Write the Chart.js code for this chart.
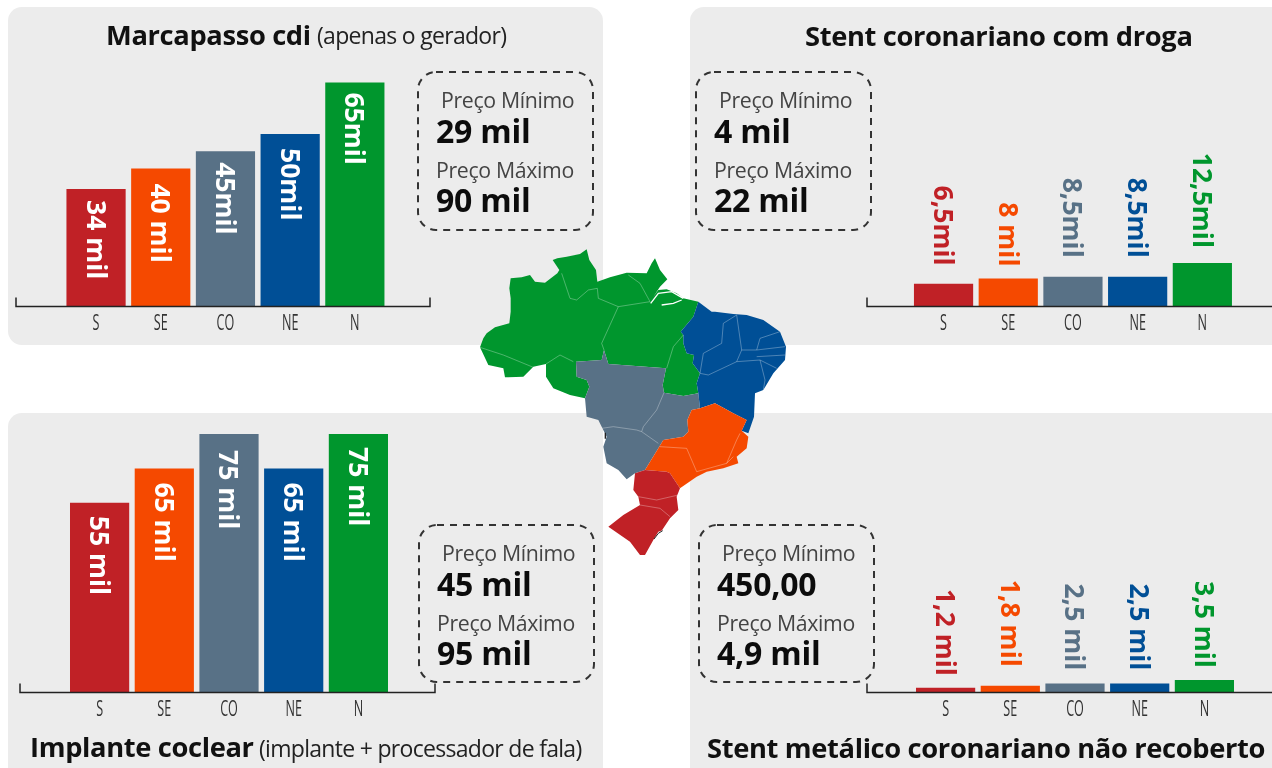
<!DOCTYPE html>
<html>
<head>
<meta charset="utf-8">
<script src="https://cdn.jsdelivr.net/npm/chart.js@4"></script>
<style>
html, body { margin: 0; padding: 0; background: #fff; }
#page { position: relative; width: 1272px; height: 768px; overflow: hidden; font-family: "Open Sans", sans-serif; color: #111; }
.panel { position: absolute; background: #ececec; border-radius: 14px; }
canvas { position: absolute; }
.txt { position: absolute; white-space: nowrap; line-height: 1; }
.tit { font-size: 27.3px; font-weight: 700; letter-spacing: -0.35px; }
.sub { font-size: 23px; font-weight: 400; letter-spacing: -0.7px; color: #222; }
.lbl { font-size: 21.3px; color: #444; letter-spacing: -0.35px; }
.val { font-size: 32px; font-weight: 700; color: #0c0c0c; letter-spacing: -0.2px; }
svg { position: absolute; }
</style>
</head>
<body>
<div id="page">
  <div class="panel" style="left:8px;top:7px;width:595px;height:338px"></div>
  <div class="panel" style="left:690px;top:7px;width:620px;height:338px"></div>
  <div class="panel" style="left:8px;top:413px;width:595px;height:380px"></div>
  <div class="panel" style="left:690px;top:413px;width:620px;height:380px"></div>

  <canvas id="chart1" width="440" height="345" style="left:0;top:0"></canvas>
  <canvas id="chart2" width="412" height="345" style="left:860px;top:0"></canvas>
  <canvas id="chart3" width="440" height="345" style="left:0;top:386px"></canvas>
  <canvas id="chart4" width="412" height="345" style="left:860px;top:386px"></canvas>

  <svg width="1272" height="768" style="left:0;top:0" fill="none" stroke="#333" stroke-width="2" stroke-dasharray="7 6">
    <rect x="418" y="72" width="175" height="158" rx="18"/>
    <rect x="696" y="72" width="175" height="158" rx="18"/>
    <rect x="419" y="525" width="175" height="157" rx="18"/>
    <rect x="699" y="525" width="175" height="157" rx="18"/>
  </svg>

  <span class="txt tit" style="left:106px;top:21px">Marcapasso cdi</span>
  <span class="txt sub" style="left:317px;top:24px">(apenas o gerador)</span>
  <span class="txt tit" style="left:805px;top:22px">Stent coronariano com droga</span>
  <span class="txt tit" style="left:30px;top:733px">Implante coclear</span>
  <span class="txt sub" style="left:259px;top:737px">(implante + processador de fala)</span>
  <span class="txt tit" style="left:707px;top:734px">Stent metálico coronariano não recoberto</span>

  <div id="precos"></div>

  <svg id="mapa" width="330" height="330" viewBox="0 0 990 990" style="left:470px;top:240px">
    <polygon fill="#00962d" points="30,322 40,295 50,280 75,262 118,250 122,215 122,175 118,145 122,115 155,112 180,105 195,125 225,128 262,100 268,90 248,60 262,55 290,50 330,42 350,28 358,60 378,90 382,125 420,112 470,98 530,100 545,70 555,55 570,90 592,118 570,140 550,170 565,150 590,148 620,160 640,175 685,185 670,230 632,275 640,285 640,310 650,340 672,345 668,370 690,400 680,430 685,460 640,468 582,458 578,435 588,385 415,372 402,330 395,360 318,365 320,410 350,420 358,440 345,475 300,465 250,445 228,410 228,372 190,380 160,410 105,412 100,385 55,375"/>
    <polygon fill="#587186" points="318,365 395,360 402,330 415,372 588,385 578,435 582,458 640,468 685,460 690,505 665,510 652,540 655,575 640,590 580,600 565,625 525,690 495,700 470,718 445,690 410,670 400,620 410,590 395,560 385,540 350,530 345,475 358,440 350,420 320,410"/>
    <polygon fill="#004f96" points="685,185 725,215 735,215 790,222 830,225 880,240 930,275 948,320 945,360 910,400 880,450 855,460 852,530 835,580 815,572 830,540 790,520 735,490 690,505 685,460 680,430 690,400 668,370 672,345 650,340 640,310 640,285 632,275 670,230"/>
    <polygon fill="#f54900" points="690,505 735,490 790,520 830,540 815,572 835,590 830,625 800,650 805,670 760,685 710,695 680,710 630,745 600,700 590,695 525,690 565,625 580,600 640,590 655,575 652,540 665,510"/>
    <polygon fill="#c02126" points="495,700 525,690 590,695 600,700 630,745 620,770 625,810 600,835 570,880 550,900 525,945 510,945 480,905 415,860 460,825 510,795 505,770 490,750"/>
    <g fill="none" stroke="#fff" stroke-opacity="0.45" stroke-width="2">
      <polyline points="30,322 100,345 190,382"/>
      <polyline points="228,372 270,345 310,365"/>
      <polyline points="275,100 300,175 320,180 355,150 382,145 385,175 445,200 395,310 402,330"/>
      <polyline points="475,105 510,130 540,185 445,200"/>
      <polyline points="640,285 610,320 590,385"/>
      <polyline points="582,458 560,510 520,560 515,575 565,610"/>
      <polyline points="395,565 430,560 500,570 515,575"/>
      <polyline points="800,225 760,250 755,310 700,340 690,400 715,405 800,365 815,330 800,225"/>
      <polyline points="815,330 860,330 870,295 930,275"/>
      <polyline points="860,330 945,320"/>
      <polyline points="800,365 870,360 885,420 880,450"/>
      <polyline points="860,350 945,345"/>
      <polyline points="870,360 920,385"/>
      <polyline points="570,620 650,625 680,695 770,670 800,600 810,580"/>
      <polyline points="790,650 770,670"/>
      <polyline points="505,770 560,780 625,765"/>
      <polyline points="510,795 570,805 600,830"/>
    </g>
    <g fill="none" stroke="#fff" stroke-width="4">
      <polyline points="542,190 565,160 605,155 640,175"/>
      <polyline points="575,195 610,190 635,180"/>
    </g>
    <polygon fill="#fff" points="550,900 565,875 580,870 570,885"/>
    <polyline fill="none" stroke="#222" stroke-width="3" points="552,897 565,880 578,872"/>
    <polyline fill="none" stroke="#222" stroke-width="4" points="406,578 406,596"/>
  </svg>
</div>

<script>
// data (values in R$ mil)
const regioes = ["S", "SE", "CO", "NE", "N"];
const cores = ["#c02126", "#f54900", "#587186", "#004f96", "#00962d"];

const marcapasso = [34, 40, 45, 50, 65];
const rotulosMarcapasso = ["34 mil", "40 mil", "45mil", "50mil", "65mil"];

const stentDroga = [6.5, 8, 8.5, 8.5, 12.5];
const rotulosStentDroga = ["6,5mil", "8 mil", "8,5mil", "8,5mil", "12,5mil"];

const implante = [55, 65, 75, 65, 75];
const rotulosImplante = ["55 mil", "65 mil", "75 mil", "65 mil", "75 mil"];

const stentMetalico = [1.2, 1.8, 2.5, 2.5, 3.5];
const rotulosStentMetalico = ["1,2 mil", "1,8 mil", "2,5 mil", "2,5 mil", "3,5 mil"];

const precoMinimo = ["29 mil", "4 mil", "45 mil", "450,00"];
const precoMaximo = ["90 mil", "22 mil", "95 mil", "4,9 mil"];

// Price boxes
const caixas = [[418, 72], [696, 72], [419, 525], [699, 525]];
let html = "";
caixas.forEach((c, i) => {
	const x = c[0], y = c[1];
	html += `<span class="txt lbl" style="left:${x + 23}px;top:${y + 17}px">Preço Mínimo</span>`;
	html += `<span class="txt val" style="left:${x + 18}px;top:${y + 43}px">${precoMinimo[i]}</span>`;
	html += `<span class="txt lbl" style="left:${x + 18}px;top:${y + 87}px">Preço Máximo</span>`;
	html += `<span class="txt val" style="left:${x + 18}px;top:${y + 112}px">${precoMaximo[i]}</span>`;
});
document.getElementById("precos").innerHTML = html;

// Baseline with end ticks, longer than the plot area
const eixoPlugin = {
	id: "eixo",
	afterDatasetsDraw(chart, args, opts) {
		const ctx = chart.ctx;
		const y = chart.scales.y.getPixelForValue(0) + 0.5;
		ctx.save();
		ctx.strokeStyle = "#222";
		ctx.lineWidth = 1.5;
		ctx.beginPath();
		ctx.moveTo(opts.de, y - 9);
		ctx.lineTo(opts.de, y);
		ctx.lineTo(opts.ate, y);
		if (opts.fim) ctx.lineTo(opts.ate, y - 9);
		ctx.stroke();
		ctx.restore();
	}
};

// Condensed tick labels, squeezed because no narrow font is installed
const ticksPlugin = {
	id: "ticksEstreitos",
	afterDraw(chart) {
		const ctx = chart.ctx;
		const x = chart.scales.x;
		const y = chart.scales.y.getPixelForValue(0) + 18;
		regioes.forEach((r, i) => {
			ctx.save();
			ctx.translate(x.getPixelForTick(i), y);
			ctx.scale(0.6, 1);
			ctx.font = "400 21px 'Open Sans'";
			ctx.fillStyle = "#333";
			ctx.textAlign = "center";
			ctx.textBaseline = "middle";
			ctx.fillText(r, 0, 0);
			ctx.restore();
		});
	}
};

// Rotated value labels, inside the bar or above it
const rotulosPlugin = {
	id: "rotulos",
	afterDatasetsDraw(chart, args, opts) {
		const ctx = chart.ctx;
		const meta = chart.getDatasetMeta(0);
		meta.data.forEach((bar, i) => {
			ctx.save();
			ctx.translate(bar.x, bar.y);
			ctx.rotate(Math.PI / 2);
			ctx.font = "700 26.5px 'Open Sans'";
			ctx.textBaseline = "middle";
			if (opts.dentro) {
				ctx.fillStyle = "#fff";
				ctx.textAlign = "left";
				ctx.fillText(opts.textos[i], opts.folga[i], 2);
			} else {
				ctx.fillStyle = cores[i];
				ctx.textAlign = "right";
				ctx.fillText(opts.textos[i], -opts.folga[i], 2);
			}
			ctx.restore();
		});
	}
};

function desenha(id, valores, textos, cfg) {
	const canvas = document.getElementById(id);
	return new Chart(canvas, {
		type: "bar",
		data: {
			labels: regioes,
			datasets: [{
				data: valores,
				backgroundColor: cores,
				barPercentage: 0.915,
				categoryPercentage: 1
			}]
		},
		options: {
			responsive: false,
			animation: false,
			layout: {
				padding: { left: cfg.esquerda, right: canvas.width - cfg.esquerda - 323.5, top: 48, bottom: 0 }
			},
			plugins: {
				legend: { display: false },
				tooltip: { enabled: false },
				eixo: { de: cfg.de, ate: cfg.ate, fim: cfg.fim },
				rotulos: { textos: textos, dentro: cfg.dentro, folga: cfg.folga }
			},
			scales: {
				y: { display: false, min: 0, max: 75 },
				x: {
					grid: { display: false },
					border: { display: false },
					afterFit(scale) { scale.height = 39; },
					ticks: { display: false }
				}
			}
		},
		plugins: [eixoPlugin, rotulosPlugin, ticksPlugin]
	});
}

desenha("chart1", marcapasso, rotulosMarcapasso, { esquerda: 63.7, de: 16, ate: 430, fim: true, dentro: true, folga: [11, 15, 11, 14, 10] });
desenha("chart2", stentDroga, rotulosStentDroga, { esquerda: 51.2, de: 7, ate: 412, fim: false, dentro: false, folga: [18, 12, 19, 19, 15] });
desenha("chart3", implante, rotulosImplante, { esquerda: 67.25, de: 20, ate: 435, fim: true, dentro: true, folga: [13, 14, 16, 14, 13] });
desenha("chart4", stentMetalico, rotulosStentMetalico, { esquerda: 53.25, de: 7, ate: 412, fim: false, dentro: false, folga: [12, 19, 13, 13, 12] });
</script>
</body>
</html>
